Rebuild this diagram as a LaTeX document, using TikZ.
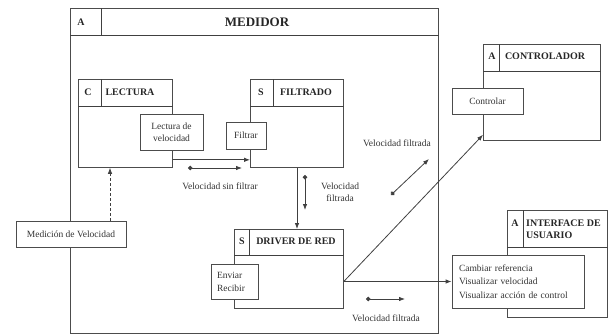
\documentclass[tikz,border=0pt]{standalone}
\usepackage{fontspec}
\setmainfont{Liberation Serif}
\usetikzlibrary{arrows.meta}

\begin{document}
\begin{tikzpicture}[x=1pt,y=-1pt,
    modulo/.style 2 args={draw=black!70,line width=.8pt,anchor=north west,minimum width=#1,minimum height=#2,inner sep=0pt},
    proc/.style={draw=black!70,line width=.8pt,fill=white,inner sep=0pt,font=\fontsize{9.5}{12}\selectfont,text=black!80},
    cab/.style={font=\bfseries\fontsize{10}{12}\selectfont,inner sep=0pt,text=black!85},
    etiq/.style={font=\fontsize{9.5}{12}\selectfont,inner sep=0pt,text=black!80},
    linea/.style={draw=black!75,line width=.8pt},
    flecha/.style={linea,-{Latex[length=6pt,width=4.5pt]}},
    flujo/.style={linea,{Circle[length=4.5pt]}-{Latex[length=6pt,width=4.5pt]}}]
  \useasboundingbox (0,0) rectangle (608,335);
  % modulos
  \node[modulo={368pt}{325pt}] (MED) at (70,8) {};
  \draw[linea] ([yshift=-27pt]MED.north west) -- ([yshift=-27pt]MED.north east);
  \draw[linea] ([xshift=31pt]MED.north west) -- ++(0,27);
  \node[cab] (MEDa) at (81,22) {A};
  \node[cab,font=\bfseries\fontsize{13}{15}\selectfont] (MEDt) at (257,22) {MEDIDOR};

  \node[modulo={94pt}{88pt}] (LEC) at (78,79) {};
  \draw[linea] ([yshift=-27pt]LEC.north west) -- ([yshift=-27pt]LEC.north east);
  \draw[linea] ([xshift=23pt]LEC.north west) -- ++(0,27);
  \node[cab] (LECa) at (88,92) {C};
  \node[cab] (LECt) at (130,92) {LECTURA};

  \node[modulo={93pt}{88pt}] (FIL) at (250,79) {};
  \draw[linea] ([yshift=-27pt]FIL.north west) -- ([yshift=-27pt]FIL.north east);
  \draw[linea] ([xshift=23pt]FIL.north west) -- ++(0,27);
  \node[cab] (FILa) at (261,92) {S};
  \node[cab] (FILt) at (306,92) {FILTRADO};

  \node[modulo={109pt}{79pt}] (DRV) at (234,229) {};
  \draw[linea] ([yshift=-26pt]DRV.north west) -- ([yshift=-26pt]DRV.north east);
  \draw[linea] ([xshift=15pt]DRV.north west) -- ++(0,26);
  \node[cab] (DRVa) at (242,241) {S};
  \node[cab] (DRVt) at (296,241) {DRIVER DE RED};

  \node[modulo={117pt}{96pt}] (CON) at (483,44) {};
  \draw[linea] ([yshift=-27pt]CON.north west) -- ([yshift=-27pt]CON.north east);
  \draw[linea] ([xshift=16pt]CON.north west) -- ++(0,27);
  \node[cab] (CONa) at (492,56) {A};
  \node[cab] (CONt) at (545,56) {CONTROLADOR};

  \node[modulo={100pt}{107pt}] (INT) at (507,210) {};
  \draw[linea] ([yshift=-37pt]INT.north west) -- ([yshift=-37pt]INT.north east);
  \draw[linea] ([xshift=16pt]INT.north west) -- ++(0,37);
  \node[cab] (INTa) at (515,223) {A};
  \node[cab,anchor=west,align=left] (INTt) at (526,229) {INTERFACE DE\\USUARIO};

  % procesos
  \node[proc,minimum width=63pt,minimum height=36pt,align=center] (LV) at (171.5,132) {Lectura de\\velocidad};
  \node[proc,minimum width=40pt,minimum height=27pt] (FLT) at (246,135.5) {Filtrar};
  \node[proc,minimum width=47pt,minimum height=35pt,align=left,text width=35pt,font=\fontsize{9.5}{13}\selectfont] (ER) at (234.5,281.5) {Enviar\\Recibir};
  \node[proc,minimum width=110pt,minimum height=26pt] (MV) at (71,234) {Medición de Velocidad};
  \node[proc,minimum width=71pt,minimum height=26pt] (CTR) at (487.5,101) {Controlar};
  \node[proc,minimum width=132pt,minimum height=53pt,align=left,text width=118pt,font=\fontsize{9.5}{13.5}\selectfont] (TXT) at (518,281.5) {Cambiar referencia\\Visualizar velocidad\\Visualizar acción de control};

  % conexiones
  \draw[flecha] ([yshift=8pt]LEC.south east) -- ([yshift=8pt]FIL.south west);
  \coordinate (d1) at ([xshift=32pt]LEC.south west);
  \draw[flecha,densely dashed] (d1 |- MV.north) -- (d1);
  \coordinate (d2) at ([xshift=47pt]FIL.south west);
  \draw[flecha] (d2) -- (d2 |- DRV.north);
  \coordinate (S) at (TXT.west -| DRV.east);
  \draw[flecha] (S) -- (TXT.west);
  \draw[flecha] (S) -- ([yshift=6pt]CON.south west);

  % flujos de datos
  \coordinate (f1a) at (188,168); \coordinate (f1b) at (242,168);
  \draw[flujo] (f1a) -- (f1b);
  \node[etiq] (L1) at (220,186) {Velocidad sin filtrar};
  \coordinate (f2a) at (305,175); \coordinate (f2b) at (305,210);
  \draw[flujo] (f2a) -- (f2b);
  \node[etiq,align=center] (L2) at (340,192.5) {Velocidad\\filtrada};
  \coordinate (f3a) at (391,195); \coordinate (f3b) at (429,159);
  \draw[flujo] (f3a) -- (f3b);
  \node[etiq] (L3) at (397,143) {Velocidad filtrada};
  \coordinate (f4a) at (366,299); \coordinate (f4b) at (405,299);
  \draw[flujo] (f4a) -- (f4b);
  \node[etiq] (L4) at (386,318) {Velocidad filtrada};
\end{tikzpicture}
\end{document}
